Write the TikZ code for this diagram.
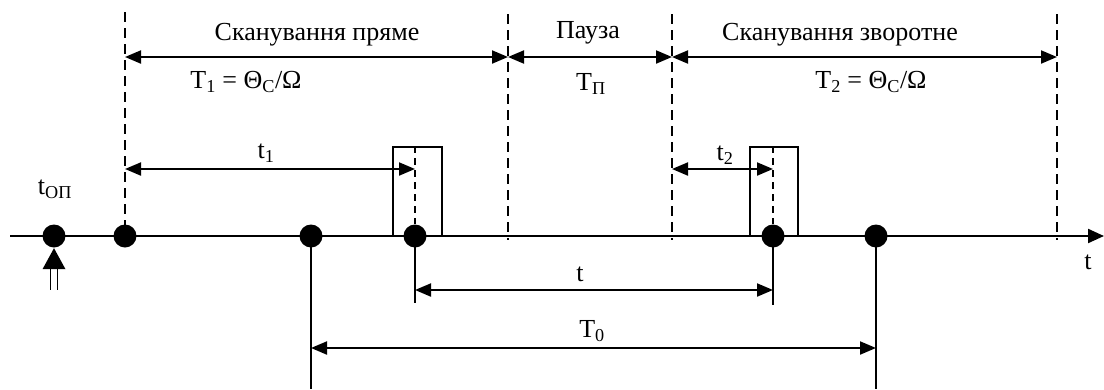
\documentclass[tikz,border=0pt]{standalone}
\usepackage{fontspec}
\setmainfont{Liberation Serif}
\usetikzlibrary{arrows.meta}
\begin{document}
\begin{tikzpicture}[x=1pt,y=-1pt,
  lbl/.style={font=\fontsize{26}{30}\selectfont, inner sep=0pt},
  dot/.style={circle,fill=black,minimum size=23pt,inner sep=0pt},
  vdash/.style={line width=1.6pt, dash pattern=on 10pt off 6pt},
  idash/.style={line width=1.6pt, dash pattern=on 7pt off 5pt},
  dim/.style={line width=2pt, {Triangle[length=16pt,width=13pt]}-{Triangle[length=16pt,width=13pt]}},
  sline/.style={line width=1.6pt},
  boxn/.style={draw, line width=1.6pt, minimum width=49pt, minimum height=89pt, inner sep=0pt}]
\useasboundingbox (0,0) rectangle (1104,389);
% axis
\coordinate (ax0) at (10,236);
\coordinate (ax1) at (1104,236);
\draw[line width=2.2pt, -{Triangle[length=16pt,width=14pt]}] (ax0) -- (ax1);
% dashed verticals
\coordinate (v1) at (125,12);
\coordinate (v2) at (508,14);
\coordinate (v3) at (672,14);
\coordinate (v4) at (1057,14);
\coordinate (v2b) at (508,240);
\coordinate (v3b) at (672,240);
\coordinate (v4b) at (1057,240);
\coordinate (v1b) at (125,236);
\draw[vdash] (v1) -- (v1b);
\draw[vdash] (v2) -- (v2b);
\draw[vdash] (v3) -- (v3b);
\draw[vdash] (v4) -- (v4b);
% boxes
\node[boxn] (b1) at (417.5,191.5) {};
\node[boxn, minimum width=48pt] (b2) at (774,191.5) {};
% dots
\node[dot] (d0) at (54,236) {};
\node[dot] (d1) at (125,236) {};
\node[dot] (d2) at (311,236) {};
\node[dot] (d3) at (415,236) {};
\node[dot] (d4) at (773,236) {};
\node[dot] (d5) at (876,236) {};
% inner dashed lines
\draw[idash] (b1.north -| d3) -- (d3.north);
\draw[idash] (b2.north -| d4) -- (d4.north);
% top dimension arrows
\coordinate (a1) at (125,57);
\coordinate (a2) at (508,57);
\coordinate (a3) at (672,57);
\coordinate (a4) at (1057,57);
\draw[dim] (a1) -- (a2);
\draw[dim] (a2) -- (a3);
\draw[dim] (a3) -- (a4);
% t1, t2 arrows
\coordinate (t1a) at (125,169);
\coordinate (t1b) at (415,169);
\coordinate (t2a) at (672,169);
\coordinate (t2b) at (773,169);
\draw[dim] (t1a) -- (t1b);
\draw[dim] (t2a) -- (t2b);
% lower verticals
\coordinate (l2) at (311,389);
\coordinate (l3) at (415,303);
\coordinate (l4) at (773,305);
\coordinate (l5) at (876,389);
\draw[sline] (d2.center) -- (l2);
\draw[sline] (d3.center) -- (l3);
\draw[sline] (d4.center) -- (l4);
\draw[sline] (d5.center) -- (l5);
\coordinate (ta) at (415,290);
\coordinate (tb) at (773,290);
\coordinate (Ta) at (311,348);
\coordinate (Tb) at (876,348);
\draw[dim] (ta) -- (tb);
\draw[dim] (Ta) -- (Tb);
% upward double arrow under t_OP
\fill (d0.south) ++(0,0.5) -- ++(11.5,21) -- ++(-23,0) -- cycle;
\draw[sline] (50.5,269) -- (50.5,290);
\draw[sline] (57.5,269) -- (57.5,290);
% labels
\node[lbl] (s1) at (317,35) {Сканування пряме};
\node[lbl] (s2) at (588,33) {Пауза};
\node[lbl] (s3) at (840,35) {Сканування зворотне};
\node[lbl] (f1) at (246,82) {T\textsubscript{1} = Θ\textsubscript{C}/Ω};
\node[lbl] (f2) at (591,84) {T\textsubscript{П}};
\node[lbl] (f3) at (871,82) {T\textsubscript{2} = Θ\textsubscript{C}/Ω};
\node[lbl] (lt1) at (266,153) {t\textsubscript{1}};
\node[lbl] (lt2) at (725,155) {t\textsubscript{2}};
\node[lbl] (lop) at (55,189) {t\textsubscript{ОП}};
\node[lbl] (lt) at (580,274) {t};
\node[lbl] (lT0) at (592,331) {T\textsubscript{0}};
\node[lbl] (laxis) at (1088,262) {t};
\end{tikzpicture}
\end{document}
